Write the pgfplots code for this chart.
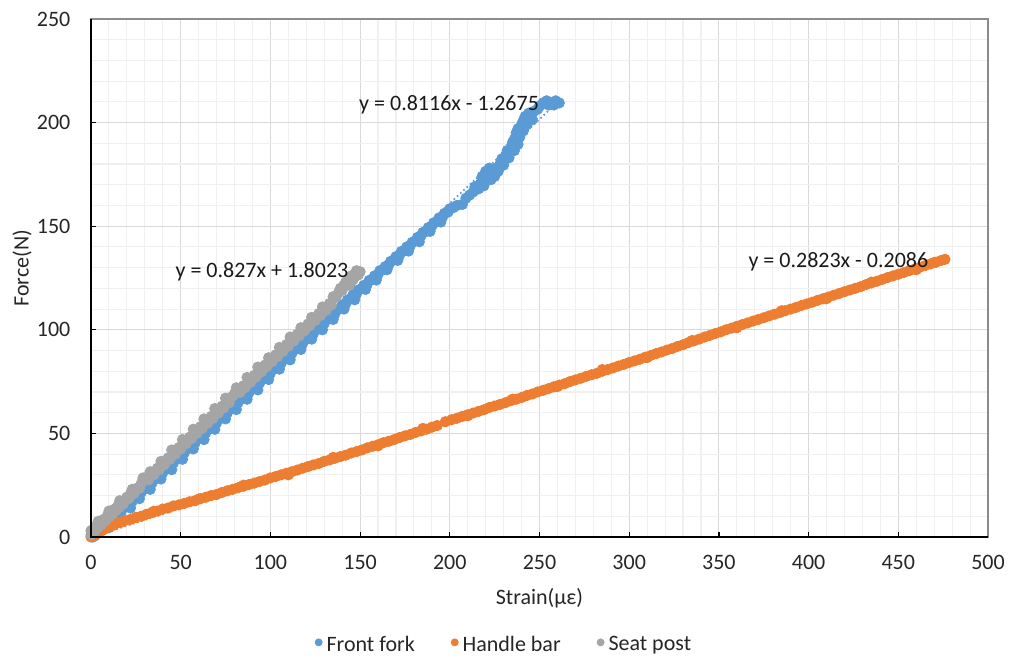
\documentclass[border=0pt]{standalone}
\usepackage{fontspec}
\setmainfont{Carlito}
\usepackage{pgfplots}
\usepackage{pgfplotstable}
\pgfplotsset{compat=1.18}

\definecolor{ffblue}{HTML}{5B9BD5}
\definecolor{hborange}{HTML}{ED7D31}
\definecolor{spgray}{HTML}{A5A5A5}
\definecolor{majgrid}{HTML}{D9D9D9}
\definecolor{mingrid}{HTML}{F0F0F0}

% Front fork
\pgfplotstableread{
x y
1 0
2 0.5
3 1.5
5 2.8
6 4.0
8 5.2
9 6.8
10 4.5
11 7.9
12 9.5
14 10.2
15 11.8
16 9.5
17 12.6
18 14.3
20 15.0
21 16.8
22 14.0
23 17.2
24 19.0
26 19.8
27 18.5
28 21.5
29 23.0
31 23.6
32 25.2
33 23.0
34 26.0
35 27.9
37 28.4
38 30.2
39 28.0
40 31.0
41 32.8
43 33.5
44 35.0
45 32.5
46 35.8
47 37.6
49 38.2
50 40.0
51 37.5
52 40.6
53 42.3
55 43.0
56 44.9
57 42.5
58 45.4
59 47.2
61 47.8
62 49.6
63 47.0
64 50.3
65 52.0
67 52.6
68 54.5
69 52.0
70 55.1
71 56.8
73 57.6
74 59.3
75 57.0
76 59.9
77 61.8
79 62.3
80 64.0
81 61.5
82 64.8
83 66.5
85 67.0
86 68.8
87 66.5
88 69.5
89 71.4
91 71.8
92 73.6
93 71.0
94 74.3
95 76.0
97 76.6
98 78.5
99 76.0
100 79.0
101 80.7
103 81.5
104 83.2
105 81.0
106 83.8
107 85.6
109 86.1
110 88.0
111 85.5
112 88.6
113 90.3
115 91.0
116 92.8
117 90.5
118 93.4
119 95.1
121 95.8
122 97.6
123 95.5
124 98.2
125 100.0
127 100.5
128 102.4
129 100.0
130 103.0
131 104.7
133 105.4
134 107.2
135 105.0
136 107.8
137 109.6
139 110.2
140 112.0
141 110.0
142 112.6
143 114.4
145 115.0
146 116.8
147 114.5
148 117.4
149 119.2
151 120.0
152 121.4
153 119.5
154 122.0
155 123.8
157 124.3
158 126.0
159 124.0
160 126.7
161 128.5
163 129.0
164 130.5
165 129.0
166 131.4
167 133.0
169 133.8
170 135.3
171 133.5
172 136.0
173 137.8
175 138.2
176 140.0
177 138.0
178 140.6
179 142.2
181 143.0
182 144.6
183 142.5
184 145.4
185 147.0
187 147.5
188 149.3
189 147.5
190 150.0
191 151.6
193 152.2
194 154.0
195 152.0
196 154.5
197 156.2
199 156.8
200 158.4
202 159.0
204 160.0
207 160.5
209 163.5
211 165.0
213 166.5
214 169.0
216 168.0
217 170.5
218 174.0
219 169.5
220 172.0
220 176.5
221 174.5
222 178.0
223 172.5
224 176.0
225 174.0
226 178.0
227 176.5
228 180.0
229 182.5
230 179.5
231 184.0
232 186.5
233 183.0
234 188.0
235 190.5
236 186.5
236 192.0
237 195.0
238 189.5
238 197.0
239 193.0
240 199.0
241 196.0
241 201.0
242 203.0
243 199.0
244 204.5
246 201.5
247 205.5
249 206.5
250 208.0
252 209.5
254 210.5
255 208.5
257 209.5
258 208.5
259 210.5
261 209.5
}\frontfork

% Handle bar
\pgfplotstableread{
x y
0 0
2 0.8
4 1.8
6 3.0
8 4.0
10 5.0
12 5.5
14 6.5
15 7.0
17 7.2
19 8.0
22 8.5
25 9.5
28 10.0
31 11.0
34 11.8
35 12.4
37 12.5
40 13.5
43 14.0
46 15.0
49 15.5
52 16.2
55 17.0
58 17.5
60 18.3
61 18.5
64 19.2
67 20.0
70 20.5
73 21.5
76 22.3
79 23.0
82 23.8
85 24.5
85 25.0
88 25.3
91 26.0
94 26.8
97 27.5
100 28.5
103 29.2
106 30.0
109 30.8
110 30.0
112 31.5
115 32.3
118 33.2
121 34.0
124 34.8
127 35.5
130 36.5
133 37.2
135 38.4
136 38.0
139 38.8
142 39.5
145 40.5
148 41.2
151 42.0
154 43.0
157 43.8
160 44.5
160 44.0
163 45.5
166 46.2
169 47.0
172 48.0
175 48.8
178 49.5
181 50.5
184 51.2
185 52.4
187 52.0
190 53.0
193 53.8
197.5 55.6
201 56.6
204 57.3
207 58.2
210 59.0
210 58.5
213 59.8
216 60.6
219 61.4
222 62.5
225 63.2
228 64.0
231 64.8
234 65.8
235 66.5
237 66.5
240 67.3
243 68.3
246 69.0
249 70.0
252 70.8
255 71.6
258 72.5
260 72.6
261 73.3
264 74.0
267 75.0
270 75.8
273 76.6
276 77.5
279 78.3
282 79.0
285 80.0
285 80.8
288 80.8
291 81.6
294 82.5
297 83.3
300 84.2
303 85.0
306 85.8
309 86.8
310 86.6
312 87.6
315 88.5
318 89.3
321 90.2
324 91.0
327 92.0
330 92.8
333 93.8
335 94.8
336 94.6
339 95.5
342 96.5
345 97.3
348 98.2
351 99.0
354 100.0
357 100.8
360 101.7
360 101.0
363 102.5
366 103.3
369 104.2
372 105.0
375 105.8
378 106.7
381 107.5
384 108.3
385 109.2
387 109.2
390 110.0
393 110.8
396 111.7
399 112.5
402 113.3
405 114.2
408 115.0
410 115.0
411 115.8
414 116.7
417 117.5
420 118.4
423 119.2
426 120.0
429 120.8
432 121.8
435 122.6
435 123.0
438 123.4
441 124.3
444 125.2
447 126.0
450 126.8
453 127.6
456 128.5
459 129.3
460 129.0
462 130.2
465 131.0
468 131.8
470 132.5
471 132.6
474 133.5
476 134.0
}\handlebar

% Seat post
\pgfplotstableread{
x y
0 1.0
0 3.0
1 3.5
2 2.8
3 5.2
4 4.5
4 7.5
5 6.8
6 6.2
7 8.5
8 7.8
9 10.0
10 9.5
10 12.5
11 11.8
12 11.0
13 13.4
14 12.8
15 15.0
16 14.4
16 17.5
17 16.8
18 16.0
20 19.2
21 18.5
22 20.9
23 23.0
24 21.0
25 23.3
27 23.5
28 25.8
29 28.5
30 28.0
31 28.8
32 27.6
33 31.5
34 30.8
35 30.0
37 33.2
38 32.5
39 36.5
40 35.7
41 35.0
43 38.2
44 37.5
45 42.0
46 40.7
47 40.0
49 43.2
50 42.5
51 47.0
52 45.8
53 45.0
55 48.2
56 47.4
57 52.0
58 50.7
59 50.0
61 53.2
62 52.4
63 57.0
64 55.7
65 54.9
67 58.2
68 57.3
69 62.0
70 60.6
71 59.8
73 63.1
74 62.3
75 67.0
76 65.6
77 64.8
79 68.0
80 69.2
81 72.0
82 70.5
83 69.8
85 73.0
86 72.2
87 77.0
88 75.5
89 74.7
91 78.0
92 77.2
93 82.0
94 80.5
95 79.7
97 83.0
98 82.2
99 86.5
100 85.4
101 84.6
103 87.9
104 87.1
105 91.5
106 90.4
107 89.6
109 92.9
110 92.1
111 96.5
112 95.4
113 94.6
115 97.9
116 97.0
117 101.0
118 100.3
119 99.5
121 102.8
122 102.0
123 106.0
124 105.3
125 104.5
127 107.8
128 107.0
129 111.0
130 110.2
131 109.4
133 112.7
134 112.0
135 116.0
136 115.5
137 116.5
138 118.0
139 120.0
140 119.0
141 121.5
142 123.0
143 122.0
144 124.5
145 126.0
146 124.0
147 127.0
148 128.5
149 126.5
150 128.0
147 125.5
144 121.5
}\seatpost

\begin{document}
\begin{tikzpicture}
\begin{axis}[
    set layers,
    scale only axis,
    width=448.5pt,
    height=259pt,
    xmin=0, xmax=500,
    ymin=0, ymax=250,
    xtick={0,50,...,500},
    ytick={0,50,...,250},
    minor tick num=4,
    minor tick length=0pt,
    major tick length=2.5pt,
    tick align=inside,
    tick pos=left,
    tick style={black, line width=0.6pt},
    grid=both,
    major grid style={majgrid, line width=0.55pt},
    minor grid style={mingrid, line width=0.55pt},
    axis line style={black!45, line width=0.6pt},
    font=\fontsize{11}{13}\selectfont,
    ticklabel style={font=\fontsize{11}{13}\selectfont, text=black!85},
    /pgf/number format/assume math mode=true,
    xticklabel style={yshift=-5.5pt},
    yticklabel style={xshift=-6.8pt},
    xlabel={Strain(με)},
    ylabel={Force(N)},
    xlabel style={at={(axis description cs:0.5,-0.1178)}, anchor=center, text=black!85},
    ylabel style={at={(axis description cs:-0.0769,0.519)}, anchor=center, text=black!85},
    legend columns=-1,
    legend style={draw=none, fill=none, at={(0.4615,-0.2085)}, anchor=center,
        font=\fontsize{11}{13}\selectfont, text=black!85,
        /tikz/every even column/.append style={column sep=16pt}},
    legend image code/.code={\fill (0.35em,0) circle (1.75pt);},
    clip=true,
]
\addplot[only marks, mark=*, color=ffblue, mark size=2.6pt, mark options={draw=none, fill=ffblue}] table {\frontfork};
\addlegendentry{Front fork}
\addplot[only marks, mark=*, color=hborange, mark size=2.6pt, mark options={draw=none, fill=hborange}] table {\handlebar};
\addlegendentry{Handle bar}
\addplot[only marks, mark=*, color=spgray, mark size=2.6pt, mark options={draw=none, fill=spgray}] table {\seatpost};
\addlegendentry{Seat post}

% linear trendlines
\addplot[forget plot, ffblue, line width=0.9pt, dash pattern=on 0.8pt off 1.4pt] coordinates {(0,-1.2675) (260,209.75)};
\addplot[forget plot, hborange, line width=0.9pt, dash pattern=on 0.8pt off 1.4pt] coordinates {(0,-0.2086) (476,134.17)};
\addplot[forget plot, spgray, line width=0.9pt, dash pattern=on 0.8pt off 1.4pt] coordinates {(0,1.8023) (150,125.85)};

\begin{pgfonlayer}{axis foreground}
\draw[black, line width=0.6pt] (rel axis cs:0,1) -- (rel axis cs:0,0) -- (rel axis cs:1,0);
\node[text=black!90] at (axis cs:199.6,208.5) {y = 0.8116x - 1.2675};
\node[text=black!90] at (axis cs:95.3,127.9) {y = 0.827x + 1.8023};
\node[text=black!90] at (axis cs:416.6,132.9) {y = 0.2823x - 0.2086};
\end{pgfonlayer}
\end{axis}
\pgfresetboundingbox
\path ([xshift=-45.5pt,yshift=-62pt]current axis.south west) rectangle ([xshift=11pt,yshift=9.5pt]current axis.north east);
\end{tikzpicture}
\end{document}
